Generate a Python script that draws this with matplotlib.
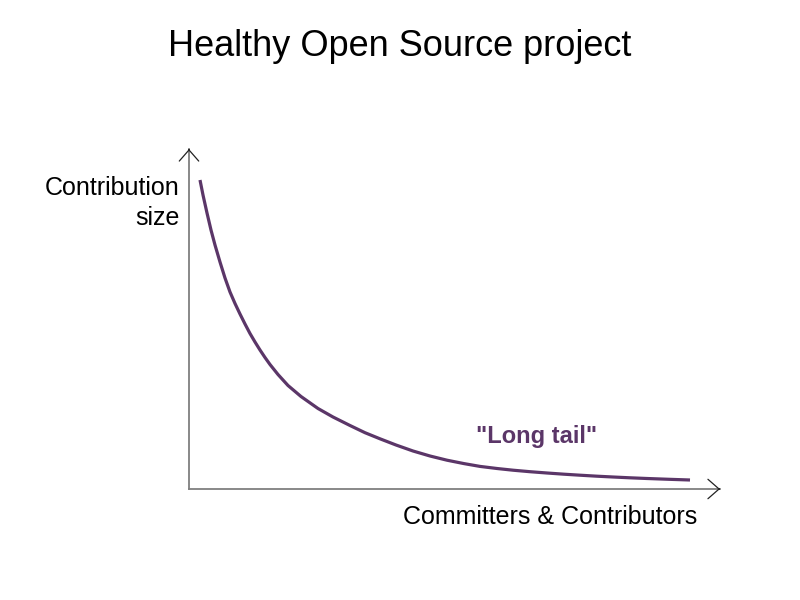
import matplotlib
matplotlib.use("Agg")
import matplotlib.pyplot as plt

plt.rcParams['font.family'] = ['Liberation Sans', 'DejaVu Sans']

# Data (arbitrary units: contributor rank vs contribution size)
contributors = [11, 14, 18, 22, 26, 31, 36, 41, 46, 51, 56, 61, 66, 71, 76, 81,
                89, 99, 112, 129, 144, 161, 176, 191, 207, 224, 241, 258,
                275, 291, 308, 324, 341, 358, 375, 391, 408, 424, 441, 458,
                480, 501]
contribution = [309, 294, 276, 259, 244, 227, 211, 197, 185.5, 175, 165, 155.5,
                147, 139, 131.5, 124.5, 114.5, 103.5, 92.5, 80.5, 72, 63.5,
                56.3, 50.2, 44, 38, 33, 28.8, 25.4, 22.6, 20.5, 18.8, 17.3, 16,
                14.8, 13.8, 12.8, 12, 11.2, 10.5, 9.7, 9]

title = "Healthy Open Source project"
ylabel = "Contribution\nsize"
xlabel = "Committers & Contributors"
annotation = '"Long tail"'
purple = "#5b3668"

fig = plt.figure(figsize=(8, 6), dpi=100)
W, H = 800, 600
left, right, top, bottom = 189, 720, 149, 489
ax = fig.add_axes([left / W, (H - bottom) / H, (right - left) / W, (bottom - top) / H])
ax.set_xlim(0, right - left)
ax.set_ylim(0, bottom - top)
ax.patch.set_alpha(0)

ax.plot(contributors, contribution, color=purple, lw=2.3,
        solid_capstyle='butt', solid_joinstyle='round')

for s in ['top', 'right']:
    ax.spines[s].set_visible(False)
for s in ['left', 'bottom']:
    ax.spines[s].set_color('#7f7f7f')
    ax.spines[s].set_linewidth(1.3)
ax.set_xticks([])
ax.set_yticks([])

# arrowheads
ap = dict(arrowstyle='->,head_length=0.8,head_width=0.7', color='#222222', lw=0.9,
          shrinkA=0, shrinkB=0)
ax.annotate('', xy=(0, 1), xycoords='axes fraction', xytext=(0, -1),
            textcoords='offset points', arrowprops=ap)
ax.annotate('', xy=(1, 0), xycoords='axes fraction', xytext=(-1, 0),
            textcoords='offset points', arrowprops=ap)

ax.text(348, 52, annotation, color=purple, fontsize=17, fontweight='bold',
        ha='center', va='center')

fig.text(0.5, 1 - 46 / H, title, ha='center', va='center', fontsize=26)
fig.text(180 / W, 1 - 203 / H, ylabel, ha='right', va='center', fontsize=18,
         linespacing=1.32)
fig.text(697 / W, 1 - 517 / H, xlabel, ha='right', va='center', fontsize=18)

fig.savefig("out.png", dpi=100)
